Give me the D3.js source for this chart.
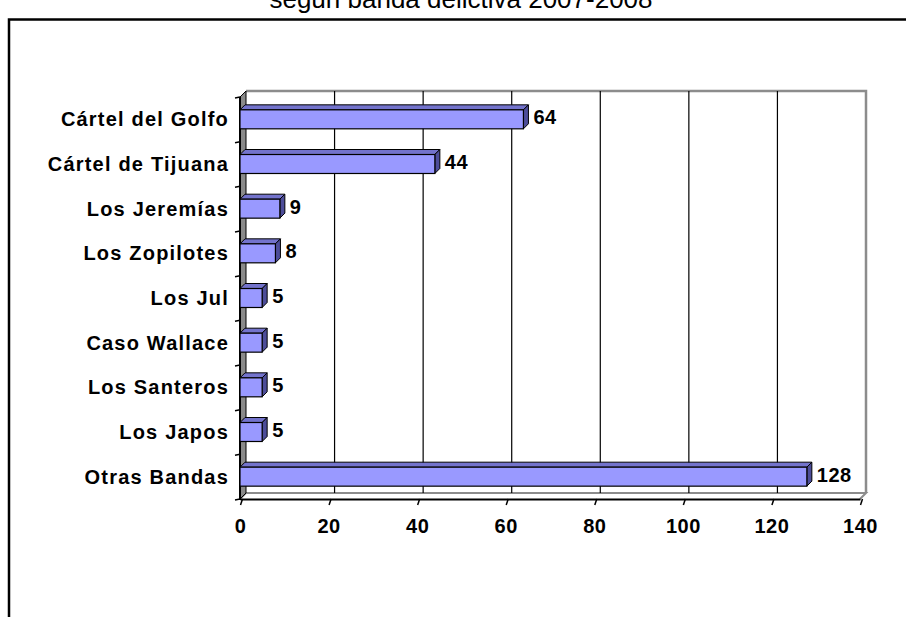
<!DOCTYPE html>
<html>
<head>
<meta charset="utf-8">
<script src="https://cdn.jsdelivr.net/npm/d3@7"></script>
<style>
  html, body { margin: 0; padding: 0; background: #fff; }
  svg { display: block; font-family: Arial, "Liberation Sans", sans-serif; }
</style>
</head>
<body>
<svg id="chart" width="906" height="617"></svg>
<script>
// Bandas delictivas y número de casos
const categories = [
  "Cártel del Golfo", "Cártel de Tijuana", "Los Jeremías", "Los Zopilotes",
  "Los Jul", "Caso Wallace", "Los Santeros", "Los Japos", "Otras Bandas"
];
const values = [64, 44, 9, 8, 5, 5, 5, 5, 128];
const xTicks = [0, 20, 40, 60, 80, 100, 120, 140];
const titleText = "según banda delictiva 2007-2008";

const svg = d3.select("#chart");

// Chart frame (only the top and left edges fall inside the page)
svg.append("path")
  .attr("d", "M9,617 V19.5 H906")
  .attr("fill", "none")
  .attr("stroke", "#000")
  .attr("stroke-width", 2.5);

svg.append("text")
  .attr("x", 461).attr("y", 8)
  .attr("text-anchor", "middle")
  .attr("font-size", 26)
  .text(titleText);

// Front plane of the plot and the 3‑D depth offsets
const plotL = 240, plotR = 860, plotT = 97, plotB = 499;
const D = 6;      // wall depth
const d = 5;      // bar depth

const x = d3.scaleLinear().domain([0, 140]).range([plotL, plotR]);
const y = d3.scaleBand().domain(categories).range([plotT, plotB])
  .paddingInner(0.575).paddingOuter(0.2875);

const g = svg.append("g");

// Back wall
g.append("rect")
  .attr("x", plotL + D).attr("y", plotT - D)
  .attr("width", plotR - plotL).attr("height", plotB - plotT)
  .attr("fill", "#fff");
g.append("path")
  .attr("d", `M${plotL + D},${plotT - D} H${plotR + D} V${plotB - D}`)
  .attr("fill", "none").attr("stroke", "#8c8c8c").attr("stroke-width", 2.5);

// Floor
g.append("path")
  .attr("d", `M${plotL},${plotB} L${plotL + D},${plotB - D} H${plotR + D} L${plotR},${plotB}`)
  .attr("fill", "#fff").attr("stroke", "#8c8c8c").attr("stroke-width", 2);

// Gridlines on the back wall
g.selectAll("line.grid")
  .data(xTicks.filter(v => v > 0 && v < 140))
  .join("line")
  .attr("class", "grid")
  .attr("x1", v => x(v) + D).attr("x2", v => x(v) + D)
  .attr("y1", plotT - D).attr("y2", plotB - D)
  .attr("stroke", "#000").attr("stroke-width", 1.2);

// Left side wall
g.append("path")
  .attr("d", `M${plotL},${plotT} L${plotL + D},${plotT - D} V${plotB - D} L${plotL},${plotB} Z`)
  .attr("fill", "#8a8a8a").attr("stroke", "#000").attr("stroke-width", 1);

// Category axis line and ticks between categories
g.append("line")
  .attr("x1", plotL).attr("x2", plotL).attr("y1", plotT).attr("y2", plotB + 1)
  .attr("stroke", "#000").attr("stroke-width", 2);
const bounds = d3.range(categories.length + 1).map(i => plotT + i * y.step());
g.selectAll("line.ytick")
  .data(bounds)
  .join("line")
  .attr("class", "ytick")
  .attr("x1", plotL - 5).attr("x2", plotL)
  .attr("y1", b => b + 1).attr("y2", b => b)
  .attr("stroke", "#000").attr("stroke-width", 1.5);

// Value axis
const xAxis = g.append("g")
  .attr("transform", `translate(0,${plotB})`)
  .call(d3.axisBottom(x).tickValues(xTicks).tickSize(6).tickSizeOuter(0).tickFormat(d3.format("d")));
xAxis.select(".domain").attr("stroke", "#000").attr("stroke-width", 2);
xAxis.selectAll(".tick line")
  .attr("x1", 2).attr("x2", 0).attr("y1", 0).attr("y2", 6)
  .attr("stroke", "#000").attr("stroke-width", 1.5);
xAxis.selectAll(".tick text")
  .attr("y", 20)
  .attr("font-family", "Arial, 'Liberation Sans', sans-serif")
  .attr("font-size", 20).attr("font-weight", "bold")
  .attr("letter-spacing", 0.5)
  .attr("fill", "#000");

// 3‑D bars
const bars = g.selectAll("g.bar")
  .data(categories.map((c, i) => ({ c, v: values[i] })))
  .join("g").attr("class", "bar");

bars.each(function (p) {
  const sel = d3.select(this);
  const x0 = x(0), x1 = x(p.v);
  const y0 = y(p.c), y1 = y(p.c) + y.bandwidth();
  sel.append("path")
    .attr("d", `M${x0},${y0} L${x0 + d},${y0 - d} H${x1 + d} L${x1},${y0} Z`)
    .attr("fill", "#7373cc").attr("stroke", "#000").attr("stroke-width", 1);
  sel.append("path")
    .attr("d", `M${x1},${y0} L${x1 + d},${y0 - d} V${y1 - d} L${x1},${y1} Z`)
    .attr("fill", "#4d4d99").attr("stroke", "#000").attr("stroke-width", 1);
  sel.append("rect")
    .attr("x", x0).attr("y", y0)
    .attr("width", x1 - x0).attr("height", y1 - y0)
    .attr("fill", "#9999ff").attr("stroke", "#000").attr("stroke-width", 1.2);
  sel.append("text")
    .attr("x", x1 + d + 5)
    .attr("y", (y0 + y1) / 2 - 2)
    .attr("dominant-baseline", "central")
    .attr("font-size", 20).attr("font-weight", "bold")
    .attr("letter-spacing", 0.5)
    .text(p.v);
});

// Category labels
g.selectAll("text.cat")
  .data(categories)
  .join("text")
  .attr("class", "cat")
  .attr("x", 229)
  .attr("y", c => y(c) + y.bandwidth() / 2)
  .attr("dominant-baseline", "central")
  .attr("text-anchor", "end")
  .attr("font-size", 20).attr("font-weight", "bold")
  .attr("letter-spacing", 1.2)
  .text(c => c);
</script>
</body>
</html>
